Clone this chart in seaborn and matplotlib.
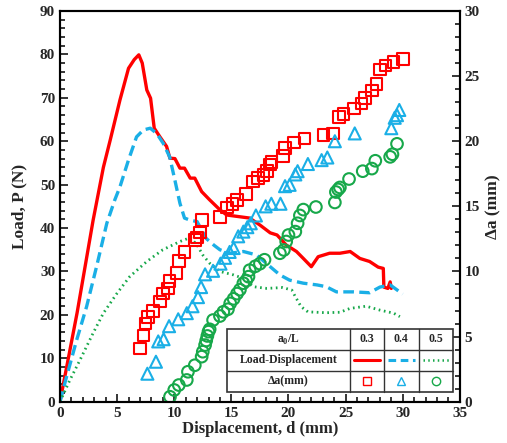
import numpy as np
import pandas as pd
import matplotlib
matplotlib.use("Agg")
import matplotlib.pyplot as plt
from matplotlib.ticker import MultipleLocator
from matplotlib.lines import Line2D
from matplotlib.patches import Rectangle
import seaborn as sns

# load-displacement curves (N vs mm)
d_03 = [0, 1.5, 2.9, 3.8, 4.4, 5.25, 6.0, 6.5, 6.9, 7.2, 7.6, 7.93, 8.25, 8.75, 9.33, 9.62,
        10.06, 10.5, 10.9, 11.4, 11.8, 12.4, 13.1, 14.0, 14.6, 15.75, 16.6, 17.5, 18.4, 19.0,
        19.8, 20.7, 21.3, 22.0, 22.6, 23.6, 24.5, 25.4, 26.25, 27.1, 27.85, 28.3, 28.35, 28.7,
        28.9, 29.0]
p_03 = [0, 20.5, 41.8, 54, 60.3, 69.5, 76.8, 78.8, 79.9, 78, 71.8, 69.9, 63, 61, 58.8, 56.1,
        56, 53.8, 53.8, 51.5, 51.5, 48.4, 46.5, 44.2, 43, 42.6, 42.3, 40.7, 38.9, 38.4,
        36.1, 34.6, 33, 31.1, 33.4, 34.2, 34.2, 34.6, 33, 32.3, 31, 30.7, 26.4, 26.1,
        27.6, 26.1]

d_04 = [0, 0.5, 1.46, 2.33, 3.2, 4.1, 4.8, 5.25, 6.0, 6.7, 7.3, 7.9, 8.46, 9.04, 9.6, 10.06,
        10.5, 10.9, 11.4, 12.0, 12.8, 13.5, 14.0, 14.9, 16.05, 17.2, 18.4, 19.25, 20.1, 21.3,
        22.5, 23.3, 24.2, 25.7, 27.1, 28.0, 28.9, 30.0]
p_04 = [0, 5, 14.2, 21.9, 31.1, 41.1, 46.5, 49.5, 55.7, 61, 62.6, 63, 61.8, 59.5, 56.4, 51,
        45.7, 42.3, 41.8, 41.5, 37.6, 36, 35, 34.2, 34.6, 33.8, 31.1, 29.2, 28, 27.3,
        26.9, 26.5, 25.3, 25.3, 25.1, 26.4, 26.9, 24.8]

d_05 = [0, 0.87, 1.75, 2.9, 3.8, 5.0, 6.1, 7.6, 9.0, 10.5, 11.4, 12.0, 12.5, 13.1, 14.0, 15.2,
        16.05, 16.9, 18.1, 19.5, 20.3, 20.6, 21.1, 21.7, 23.3, 24.5, 25.4, 26.8, 28.0, 29.2,
        29.75]
p_05 = [0, 5, 9.6, 15.8, 20.4, 25, 28.8, 32.3, 35, 36.9, 37.8, 36.1, 33.8, 31.9, 30, 29.2,
        28.4, 26.5, 26.1, 26.3, 25.7, 24.2, 21.9, 20.7, 20.5, 20.6, 21.5, 22, 21.1, 20.4,
        19.6]

# crack extension (mm vs displacement)
da_d_03 = [7.0, 7.3, 7.5, 7.7, 8.16, 8.75, 9.04, 9.48, 9.57, 10.2, 10.44, 10.9, 11.8, 12.0,
           12.25, 12.45, 14.0, 14.6, 15.1, 15.5, 16.3, 16.9, 17.35, 17.8, 18.1, 18.4, 18.5,
           19.5, 19.7, 20.5, 21.4, 23.05, 23.9, 24.4, 24.8, 25.75, 26.4, 26.7, 27.3, 27.7,
           28.0, 28.5, 29.2, 30.0]
da_03 = [4.1, 5.07, 6.0, 6.5, 6.97, 7.7, 8.3, 8.7, 9.27, 9.9, 10.8, 11.5, 12.4, 12.6,
         13.0, 13.95, 14.2, 14.9, 15.2, 15.5, 15.95, 16.9, 17.2, 17.4, 17.7, 18.2, 18.4,
         18.85, 19.5, 19.9, 20.2, 20.5, 20.6, 21.85, 22.1, 22.5, 22.9, 23.3, 23.9, 24.4,
         25.5, 25.8, 26.1, 26.3]

da_d_04 = [7.65, 8.4, 8.6, 9.07, 9.55, 10.35, 11.1, 11.6, 12.08, 12.35, 12.7, 13.4, 14.05,
           14.45, 14.85, 15.2, 15.6, 16.05, 16.4, 16.7, 17.15, 18.0, 18.5, 19.3, 19.7, 20.1,
           20.6, 20.8, 21.7, 22.9, 23.4, 24.06, 25.8, 29.0, 29.3, 29.5, 29.7]
da_04 = [2.15, 3.07, 4.63, 4.8, 5.8, 6.33, 6.8, 7.33, 8.03, 8.8, 9.78, 10.05, 10.6,
         11.05, 11.5, 11.8, 12.7, 13.06, 13.4, 13.7, 14.3, 15.0, 15.2, 15.2, 16.55, 16.65,
         17.45, 17.7, 18.25, 18.55, 18.75, 20.0, 20.6, 21.0, 21.8, 22.0, 22.4]

da_d_05 = [9.63, 10.0, 10.4, 11.1, 11.2, 11.8, 12.4, 12.5, 12.7, 12.8, 12.9, 13.0, 13.1, 13.4,
           14.0, 14.3, 14.7, 14.9, 15.2, 15.5, 15.75, 16.05, 16.3, 16.5, 16.6, 17.1, 17.5,
           17.9, 19.25, 19.6, 19.8, 20.0, 20.6, 20.8, 21.0, 21.3, 22.4, 24.06, 24.15, 24.35,
           24.5, 25.3, 26.5, 27.3, 27.6, 28.9, 29.1, 29.5]
da_05 = [0.38, 0.9, 1.28, 1.67, 2.3, 2.8, 3.46, 3.84, 4.35, 4.7, 5.05, 5.38, 5.56, 6.27,
         6.58, 6.9, 7.1, 7.55, 7.9, 8.3, 8.6, 9.1, 9.3, 9.6, 10.1, 10.4, 10.6,
         10.9, 11.4, 11.65, 12.3, 12.8, 13.06, 13.7, 14.3, 14.75, 14.95, 15.3, 16.1, 16.3,
         16.45, 17.1, 17.7, 17.9, 18.5, 18.8, 19.0, 19.8]

ratios = ["0.3", "0.4", "0.5"]
colors = ["#FF0000", "#1AAFE6", "#17A84A"]

sns.set_style("ticks")
plt.rcParams["font.family"] = ["Liberation Serif", "DejaVu Serif"]
plt.rcParams["font.weight"] = "bold"
plt.rcParams["axes.labelweight"] = "bold"
plt.rcParams["mathtext.fontset"] = "custom"
plt.rcParams["mathtext.rm"] = "Liberation Serif:bold"
plt.rcParams["mathtext.bf"] = "Liberation Serif:bold"

fig = plt.figure(figsize=(5.07, 4.43), dpi=100)
ax = fig.add_axes([0.1183, 0.0932, 0.7887, 0.882])
ax2 = ax.twinx()

curves = [(d_03, p_03, "-", None), (d_04, p_04, "--", (3.2, 1.6)), (d_05, p_05, ":", (0.6, 1.3))]
for (dx, py, ls, dash), c in zip(curves, colors):
    line_df = pd.DataFrame({"d": dx, "P": py})
    sns.lineplot(data=line_df, x="d", y="P", ax=ax, color=c, lw=2.4 if ls != ":" else 2.0,
                 linestyle=ls, estimator=None, sort=False)
    if dash is not None:
        ax.lines[-1].set_dashes(dash)

marks = [(da_d_03, da_03, "s", 70), (da_d_04, da_04, "^", 75), (da_d_05, da_05, "o", 70)]
for (dx, a, m, sz), c in zip(marks, colors):
    pts = pd.DataFrame({"d": dx, "da": a})
    sns.scatterplot(data=pts, x="d", y="da", ax=ax2, marker=m, s=sz,
                    facecolors="none", edgecolor=c, linewidth=1.5)

ax.set_xlim(0, 35)
ax.set_ylim(0, 90)
ax2.set_ylim(0, 30)
ax.xaxis.set_major_locator(MultipleLocator(5))
ax.xaxis.set_minor_locator(MultipleLocator(1))
ax.yaxis.set_major_locator(MultipleLocator(10))
ax.yaxis.set_minor_locator(MultipleLocator(2))
ax2.yaxis.set_major_locator(MultipleLocator(5))
ax2.yaxis.set_minor_locator(MultipleLocator(1))

ax.tick_params(which="both", direction="in", labelsize=11, width=1.3, right=False, top=False)
ax.tick_params(which="major", length=6)
ax.tick_params(which="minor", length=3.5)
ax2.tick_params(which="both", direction="in", labelsize=11, width=1.3, left=False, top=False)
ax2.tick_params(which="major", length=6)
ax2.tick_params(which="minor", length=3.5)
for a_ in (ax, ax2):
    for sp in a_.spines.values():
        sp.set_visible(True)
        sp.set_linewidth(1.5)
        sp.set_color("black")

ax.set_xlabel("Displacement, d (mm)", fontsize=12, fontweight="bold", labelpad=1)
ax.set_ylabel("Load, P (N)", fontsize=12.5, fontweight="bold", labelpad=9)
ax2.set_ylabel("\u0394a (mm)", fontsize=12.5, fontweight="bold", labelpad=4)

# table-style legend in the lower right
tr = ax2.transAxes
x0, x1, x2, x3, x4 = 0.417, 0.725, 0.81, 0.8975, 0.983
y0, y1, y2, y3 = 0.025, 0.079, 0.1326, 0.186
ax2.add_patch(Rectangle((x0, y0), x4 - x0, y3 - y0, transform=tr, facecolor="white",
                        edgecolor="#333333", lw=1.2, zorder=5))
for xv in (x1, x2, x3):
    ax2.add_line(Line2D([xv, xv], [y0, y3], transform=tr, color="#333333", lw=1.0, zorder=6))
for yv in (y1, y2):
    ax2.add_line(Line2D([x0, x4], [yv, yv], transform=tr, color="#333333", lw=1.0, zorder=6))

rows = [r"a$_\mathbf{0}$/L", "Load-Displacement", "\u0394a(mm)"]
for yc, txt in zip([(y2 + y3) / 2, (y1 + y2) / 2, (y0 + y1) / 2], rows):
    ax2.text((x0 + x1) / 2, yc, txt, transform=tr, ha="center", va="center",
             fontsize=8.5, fontweight="bold", zorder=7)
cols = [(x1, x2), (x2, x3), (x3, x4)]
styles = [("-", None), ("--", (2.5, 1.5)), (":", (0.6, 1.3))]
mk = ["s", "^", "o"]
for (ca, cb), r, c, (ls, dash), m in zip(cols, ratios, colors, styles, mk):
    xc = (ca + cb) / 2
    ax2.text(xc, (y2 + y3) / 2, r, transform=tr, ha="center", va="center",
             fontsize=8.5, fontweight="bold", zorder=7)
    ln = Line2D([ca + 0.01, cb - 0.01], [(y1 + y2) / 2] * 2, transform=tr, color=c,
                lw=2.2 if ls != ":" else 1.8, linestyle=ls, zorder=7)
    if dash is not None:
        ln.set_dashes(dash)
    ax2.add_line(ln)
    ax2.add_line(Line2D([xc], [(y0 + y1) / 2], transform=tr, marker=m, markersize=6,
                        markerfacecolor="none", markeredgecolor=c, markeredgewidth=1.0,
                        linestyle="none", zorder=7))

fig.savefig("out.png", dpi=100)
